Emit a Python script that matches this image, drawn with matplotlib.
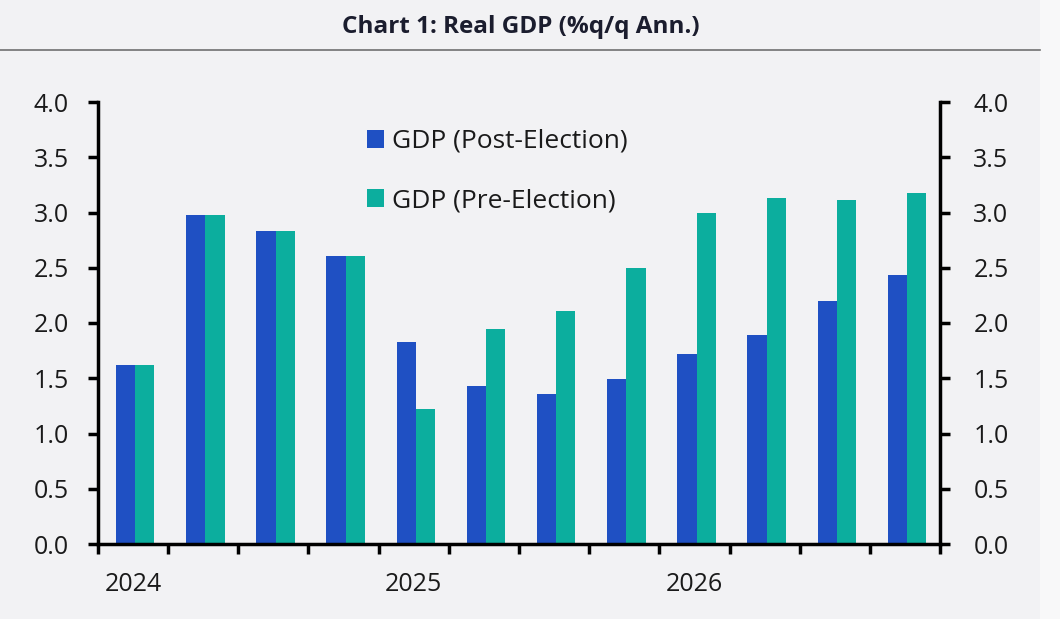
import numpy as np
import matplotlib.pyplot as plt
from matplotlib.patches import Rectangle

plt.rcParams['font.family'] = ['Open Sans', 'DejaVu Sans']

quarters = ['2024Q1', '2024Q2', '2024Q3', '2024Q4', '2025Q1', '2025Q2',
            '2025Q3', '2025Q4', '2026Q1', '2026Q2', '2026Q3', '2026Q4']
post_election = [1.62, 2.98, 2.83, 2.61, 1.83, 1.43, 1.36, 1.49, 1.72, 1.89, 2.20, 2.43]
pre_election = [1.62, 2.98, 2.83, 2.61, 1.22, 1.95, 2.11, 2.50, 3.00, 3.13, 3.11, 3.18]
year_labels = ['2024', '2025', '2026']
year_pos = [0, 4, 8]

blue = '#1f50c3'
teal = '#0cae9e'
bg = '#f2f2f4'
txt = '#1a1a1a'

fig = plt.figure(figsize=(10.6, 6.19), dpi=100)
fig.patch.set_facecolor('#f8f8f9')
fig.patches.append(Rectangle((0, 0), 1040 / 1060, 1, transform=fig.transFigure,
                             facecolor=bg, edgecolor='none', zorder=-10))

fig.text(521 / 1060, 1 - 27 / 619, 'Chart 1: Real GDP (%q/q Ann.)', ha='center', va='center',
         fontsize=17.5, fontweight='bold', color='#1b1d2e')
fig.add_artist(plt.Line2D([0, 1040 / 1060], [1 - 50 / 619, 1 - 50 / 619],
                          transform=fig.transFigure, color='#707070', lw=1.2))

ax = fig.add_axes([98 / 1060, 75 / 619, 842 / 1060, 442 / 619])
ax.set_facecolor('none')
x = np.arange(len(quarters))
w = 0.275
ax.bar(x - w / 2 + 0.03, post_election, w, color=blue, label='GDP (Post-Election)')
ax.bar(x + w / 2 + 0.03, pre_election, w, color=teal, label='GDP (Pre-Election)')

ax.set_xlim(-0.5, len(quarters) - 0.5)
ax.set_ylim(0, 4.0)
yt = np.arange(0, 4.01, 0.5)
ax.set_yticks(yt)
ax.set_yticklabels([f'{v:.1f}' for v in yt])

ax.set_xticks(np.arange(-0.5, len(quarters), 1.0))
ax.set_xticklabels([])
ax.set_xticks(year_pos, minor=True)
ax.set_xticklabels(year_labels, minor=True)
ax.tick_params(axis='x', which='minor', length=0, pad=20, labelsize=18, labelcolor=txt)
ax.tick_params(axis='x', which='major', length=7, width=2.5, direction='out')
ax.tick_params(axis='y', length=7, width=2.5, direction='out', pad=14, labelsize=18,
               labelcolor=txt)

for s in ['top', 'right']:
    ax.spines[s].set_visible(False)
for s in ['left', 'bottom']:
    ax.spines[s].set_linewidth(2.5)
    ax.spines[s].set_color('black')

ax2 = ax.twinx()
ax2.set_ylim(0, 4.0)
ax2.set_yticks(yt)
ax2.set_yticklabels([f'{v:.1f}' for v in yt])
ax2.tick_params(axis='y', length=7, width=2.5, direction='out', pad=17, labelsize=18,
                labelcolor=txt)
for s in ['top', 'left', 'bottom']:
    ax2.spines[s].set_visible(False)
ax2.spines['right'].set_linewidth(2.5)

ax.legend(loc='upper left', bbox_to_anchor=(367 / 1060, 1 - 129 / 619),
          bbox_transform=fig.transFigure, frameon=False, fontsize=19,
          handlelength=0.65, handleheight=0.65, handletextpad=0.3,
          labelspacing=1.3, borderpad=0, borderaxespad=0, labelcolor=txt)

fig.savefig('out.png', dpi=100, facecolor=fig.get_facecolor())
